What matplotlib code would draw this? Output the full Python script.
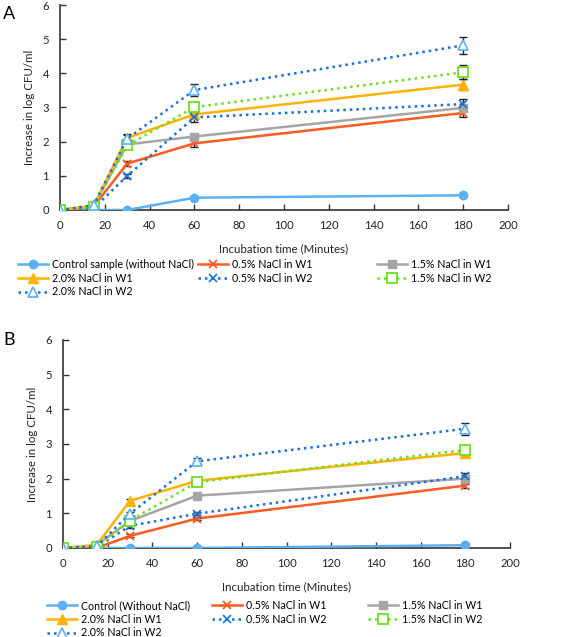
import matplotlib
matplotlib.use("Agg")
import matplotlib.pyplot as plt

plt.rcParams['font.family'] = ['Lato', 'DejaVu Sans']

time = [0, 15, 30, 60, 180]
xticks = list(range(0, 201, 20))
yticks = list(range(0, 7))

labels_A = ["Control sample (without NaCl)", "0.5% NaCl in W1", "1.5% NaCl in W1",
            "2.0% NaCl in W1", "0.5% NaCl in W2", "1.5% NaCl in W2", "2.0% NaCl in W2"]
labels_B = ["Control (Without NaCl)", "0.5% NaCl in W1", "1.5% NaCl in W1",
            "2.0% NaCl in W1", "0.5% NaCl in W2", "1.5% NaCl in W2", "2.0% NaCl in W2"]

# Panel A values
A_control = [0, 0, 0, 0.36, 0.43]
A_05W1 = [0, 0.10, 1.36, 1.95, 2.84]
A_15W1 = [0, 0.12, 1.92, 2.15, 2.99]
A_20W1 = [0, 0.12, 2.11, 2.80, 3.67]
A_05W2 = [0, 0.05, 1.00, 2.71, 3.10]
A_15W2 = [0, 0.10, 1.89, 3.01, 4.03]
A_20W2 = [0, 0.14, 2.09, 3.51, 4.82]
A_err = [
    [0, 0, 0, 0, 0],
    [0, 0, 0.07, 0.10, 0.12],
    [0, 0, 0.05, 0.08, 0.08],
    [0, 0, 0.10, 0.05, 0.15],
    [0, 0, 0.05, 0.12, 0.15],
    [0, 0, 0.05, 0.15, 0.20],
    [0, 0, 0.10, 0.17, 0.25],
]

# Panel B values
B_control = [0, 0, 0, 0, 0.08]
B_05W1 = [0, 0, 0.35, 0.85, 1.80]
B_15W1 = [0, 0.08, 0.78, 1.51, 2.00]
B_20W1 = [0, 0.08, 1.36, 1.94, 2.74]
B_05W2 = [0, 0.02, 0.64, 0.99, 2.07]
B_15W2 = [0, 0.02, 0.79, 1.90, 2.83]
B_20W2 = [0, 0.05, 0.99, 2.50, 3.44]
B_err = [
    [0, 0, 0, 0, 0],
    [0, 0, 0.04, 0.04, 0.06],
    [0, 0, 0.04, 0.05, 0.05],
    [0, 0, 0.05, 0.05, 0.08],
    [0, 0, 0.05, 0.05, 0.10],
    [0, 0, 0.05, 0.06, 0.12],
    [0, 0, 0.06, 0.10, 0.17],
]

styles = [
    dict(color='#5AB0F0', ls='-', marker='o', mfc='#5AB0F0', mec='#5AB0F0', ms=6),
    dict(color='#FF5A22', ls='-', marker='x', mfc='#FF5A22', mec='#FF5A22', ms=5.5, mew=1.3),
    dict(color='#A5A5A5', ls='-', marker='s', mfc='#A5A5A5', mec='#A5A5A5', ms=5.5),
    dict(color='#FFB300', ls='-', marker='^', mfc='#FFB300', mec='#FFB300', ms=6.5),
    dict(color='#1A6FD8', ls=(0, (1, 1.6)), marker='x', mfc='#1A6FD8', mec='#1A6FD8', ms=6, mew=1.2),
    dict(color='#6CE020', ls=(0, (1, 1.6)), marker='s', mfc='white', mec='#6CE020', ms=6.5, mew=1.3),
    dict(color='#1A6FD8', ls=(0, (1, 1.6)), marker='^', mfc='white', mec='#5AB0F0', ms=7, mew=1.2),
]

W, H = 567, 637
FS = 7.7
fig = plt.figure(figsize=(W / 100, H / 100), dpi=100)


def make_axes(left, right, top, bottom):
    return fig.add_axes([left / W, 1 - bottom / H, (right - left) / W, (bottom - top) / H])


def draw(ax, series, errs, labels, legend_y, col_x):
    handles = []
    for vals, err, st, lab in zip(series, errs, styles, labels):
        ax.errorbar(time, vals, yerr=err, fmt='none', ecolor='#222222', elinewidth=1.0,
                    capsize=3, capthick=1.0, zorder=2)
        h, = ax.plot(time, vals, linestyle=st['ls'], color=st['color'], lw=1.8,
                     marker=st['marker'], mfc=st['mfc'], mec=st['mec'], ms=st['ms'],
                     mew=st.get('mew', 1.0), label=lab, zorder=3)
        handles.append(h)
    ax.set_xlim(0, 200)
    ax.set_ylim(0, 6)
    ax.set_xticks(xticks)
    ax.set_yticks(yticks)
    ax.spines['top'].set_visible(False)
    ax.spines['right'].set_visible(False)
    for s in ('left', 'bottom'):
        ax.spines[s].set_color('#333333')
        ax.spines[s].set_linewidth(1.2)
    ax.tick_params(axis='both', direction='in', length=4, width=1, color='#333333',
                   labelsize=FS + 0.4, labelcolor='#222222')
    ax.tick_params(axis='x', pad=7)
    ax.tick_params(axis='y', pad=8)
    ax.set_xlabel("Incubation time (Minutes)", fontsize=FS + 0.6, color='#222222', labelpad=9)
    ax.set_ylabel("Increase in log CFU/ml", fontsize=FS + 0.6, color='#222222', labelpad=5)
    columns = [[0, 3, 6], [1, 4], [2, 5]]
    for cx, idxs in zip(col_x, columns):
        fig.legend([handles[i] for i in idxs], [labels[i] for i in idxs],
                   loc='upper left', bbox_to_anchor=(cx / W, 1 - legend_y / H),
                   ncol=1, frameon=False, fontsize=FS, handlelength=2.85,
                   handletextpad=0.3, labelspacing=0.25,
                   borderaxespad=0, borderpad=0)


axA = make_axes(60, 508, 5, 210)
draw(axA, [A_control, A_05W1, A_15W1, A_20W1, A_05W2, A_15W2, A_20W2], A_err, labels_A,
     259, [18, 198, 377])
fig.text(3 / W, 1 - 14 / H, "A", fontsize=13, va='center', ha='left')

axB = make_axes(63, 510, 340, 548)
draw(axB, [B_control, B_05W1, B_15W1, B_20W1, B_05W2, B_15W2, B_20W2], B_err, labels_B,
     600, [47, 212, 368])
fig.text(3 / W, 1 - 340 / H, "B", fontsize=13, va='center', ha='left')

fig.savefig("out.png", dpi=100)
